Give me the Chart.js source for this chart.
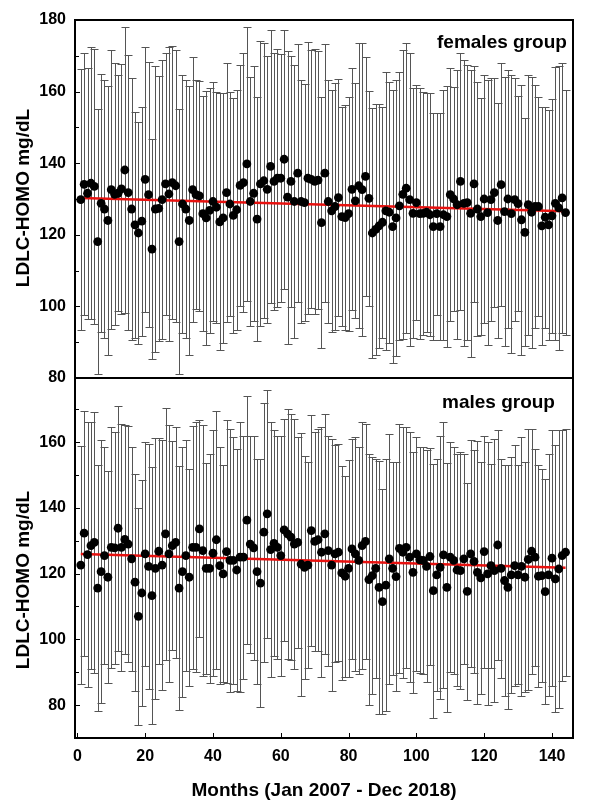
<!DOCTYPE html>
<html><head><meta charset="utf-8">
<script src="https://cdn.jsdelivr.net/npm/chart.js@4/dist/chart.umd.min.js"></script>
<style>
html,body{margin:0;padding:0;background:#fff;}
body{width:591px;height:809px;position:relative;overflow:hidden;font-family:"Liberation Sans",Arial,sans-serif;}
canvas{position:absolute;left:0;}
#c1{top:0px}
#c2{top:358px}
.lbl{position:absolute;font-weight:bold;font-size:19px;color:#000;white-space:nowrap;line-height:1;transform:translateY(-50%);}
.ytitle{position:absolute;font-weight:bold;font-size:19px;color:#000;white-space:nowrap;line-height:1;transform:translate(-50%,-50%) rotate(-90deg);}
</style></head>
<body>
<canvas id="c2" width="591" height="451"></canvas>
<canvas id="c1" width="591" height="398"></canvas>
<div class="ytitle" style="left:22px;top:198px;">LDLC-HOMO mg/dL</div>
<div class="ytitle" style="left:22px;top:580px;">LDLC-HOMO mg/dL</div>
<div class="lbl" style="left:437px;top:41px;">females group</div>
<div class="lbl" style="left:442px;top:401px;">males group</div>
<script>
const months = [1,2,3,4,5,6,7,8,9,10,11,12,13,14,15,16,17,18,19,20,21,22,23,24,25,26,27,28,29,30,31,32,33,34,35,36,
37,38,39,40,41,42,43,44,45,46,47,48,49,50,51,52,53,54,55,56,57,58,59,60,61,62,63,64,65,66,67,68,69,70,71,72,
73,74,75,76,77,78,79,80,81,82,83,84,85,86,87,88,89,90,91,92,93,94,95,96,97,98,99,100,101,102,103,104,105,106,107,108,
109,110,111,112,113,114,115,116,117,118,119,120,121,122,123,124,125,126,127,128,129,130,131,132,133,134,135,136,137,138,139,140,141,142,143,144];

const femalesMean = [129.8,134.1,131.6,134.4,133.5,118.1,128.8,127.2,124.0,132.6,131.3,131.6,132.8,138.1,131.8,127.2,122.8,120.5,123.8,135.5,131.2,116.0,127.2,127.4,129.8,134.2,131.4,134.6,133.7,118.1,128.6,127.2,124.0,132.6,131.2,
130.9,125.9,124.7,126.8,129.3,127.7,123.6,124.7,131.8,128.6,125.4,127.0,133.8,134.6,139.8,129.3,131.6,124.4,134.2,135.1,132.7,139.1,134.9,135.8,135.8,141.1,130.5,134.9,129.3,137.2,129.3,129.0,135.8,135.5,134.9,135.3,123.4,
137.2,129.3,126.7,127.9,130.4,125.1,124.8,125.9,132.7,129.5,133.7,132.6,136.3,130.2,120.5,121.5,122.5,123.5,126.7,126.3,122.3,124.7,128.1,131.3,133.0,129.8,126.0,129.0,125.9,126.0,126.3,125.6,122.3,125.9,122.3,125.6,125.1,131.2,
130.0,128.4,134.9,128.8,129.0,126.0,134.2,127.2,125.1,130.0,126.2,129.8,131.8,124.0,134.0,126.5,130.0,125.9,129.8,128.7,124.2,120.7,128.4,126.3,127.9,127.9,122.5,124.9,122.8,125.3,128.8,127.5,130.3,126.2];

const femalesSD = [36.5,36.6,35,38,38.5,37,36,36,37.6,39,36.6,33,35,40,38.4,36.5,31.6,31.1,32,37,37,30.7,40,37,39,36.5,41,38,38,37,36,36,37.6,37,32,
32.2,32.9,35.5,34.3,33.5,32.3,35.9,34.8,36.1,31.4,32.7,33.5,33.6,36.3,38.3,34.9,35.6,34.2,39.8,38.4,37.3,38.1,35.8,36,34.7,36.1,40.9,35,38,36,34,33,38,36,37,36,35,
36,34,33.8,34.4,33,30.7,31.5,32.7,33.8,32.8,39.8,40.9,33.5,30,34.8,35,34,32.3,38.9,36.5,38.2,38.6,37.5,40.3,40.5,40.9,34.9,32.9,35,34,33.4,33.9,31.6,28.2,31.6,34.9,36.5,35.3,
31.4,37.6,35.8,40,38.4,40,33,35.6,33,34.7,37.1,33.9,32,32.7,33.9,37.7,36,38.8,33.9,30,37.7,31.9,36.3,37.9,34,30.7,33.3,30.9,32.1,32.6,38.2,39.7,37.6,34.3];

const malesMean = [122.6,132.3,125.8,128.5,129.5,115.6,120.6,125.5,118.9,128.0,127.8,133.8,128.0,130.4,129.0,124.5,117.4,107.0,114.1,126.0,122.2,113.3,121.6,126.8,122.6,132.1,126.0,128.5,129.5,115.6,120.6,125.5,118.9,128.0,128.0,
133.6,127.0,121.6,121.6,126.2,130.3,122.4,119.9,126.7,124.0,124.0,121.1,125.0,125.0,136.3,129.0,127.8,120.6,117.1,132.6,138.2,127.3,129.2,128.0,125.5,133.3,132.1,131.1,129.0,129.5,122.9,121.9,122.6,133.1,129.8,130.3,126.5,
132.1,127.0,122.6,126.0,126.5,120.2,119.2,121.6,127.5,126.0,124.0,128.5,129.8,118.2,119.4,121.6,115.8,111.5,116.5,124.5,121.6,119.1,127.7,126.5,128.0,125.0,120.4,126.0,124.2,124.0,122.2,125.2,114.8,119.6,121.9,125.7,115.8,
125.0,124.0,121.1,120.9,124.5,114.6,126.0,123.7,120.4,118.7,126.7,119.9,122.4,120.9,128.7,121.6,117.9,115.8,119.6,122.4,119.6,122.2,118.9,124.3,126.8,125.0,119.2,119.4,114.5,119.6,124.7,118.4,121.4,125.5,126.5];

const malesSD = [36.2,37.3,40.3,37.6,39.8,37.3,39.9,33,32.2,36.6,35.2,37.2,37.6,34.7,35.9,34,33,32.9,34.4,34,37.3,39.1,39.6,34.4,38,38.4,39.1,31.7,35.1,37,38,35,33,37,38,
33,38.1,32,34.8,37.4,39.3,36.1,33,39.9,40.1,37.5,36.9,41.1,37,37.7,33,34.2,34.3,37.8,39.4,37.8,38.8,34.4,34,36.5,33.8,38.1,37.5,38.1,32,40,34,31.3,35.2,33.2,33.8,38,
36.5,35,38.4,33,33,32.5,30.6,33,33.5,35.5,34.5,37.6,35.8,38.2,36,33.3,38.6,34.3,38.4,38,32.3,34.8,37.9,38.1,36.6,38,36.6,35.5,34.3,34.5,35.3,33,38.6,35.3,40,40.4,37.9,
35,34.5,35.3,36.1,32,33,34.5,33.8,40,35.2,35.3,40,31,40,35,33.3,35,37.1,35.8,36.6,33.3,39.3,35,39.8,37.3,33,33.7,32.5,34.3,36.8,38.9,40.6,42.2,38.1,37.6];

const trendX = [1, 144];
const femalesTrend = [130.3, 126.6];
const malesTrend = [126.0, 121.8];

const topYLabels = [80,100,120,140,160,180];
const topYMarks = [90,100,110,120,130,140,150,160,170];
const botYLabels = [80,100,120,140,160];
const botYMarks = [80,90,100,110,120,130,140,150,160,170];
const xLabels = [0,20,40,60,80,100,120,140];

const FONT = '"Liberation Sans", Arial, sans-serif';

const errPlugin = {
  id: 'errbars',
  beforeDatasetsDraw(chart, args, o) {
    if (!o || !o.mean) return;
    const {ctx, chartArea: a} = chart;
    const xs = chart.scales.x, ys = chart.scales.y;
    ctx.save();
    ctx.beginPath(); ctx.rect(a.left, a.top, a.right - a.left, a.bottom - a.top); ctx.clip();
    ctx.strokeStyle = '#555';
    ctx.lineWidth = 1;
    ctx.beginPath();
    for (let i = 0; i < o.x.length; i++) {
      const px = Math.round(xs.getPixelForValue(o.x[i])) + 0.5;
      const t = Math.round(ys.getPixelForValue(o.mean[i] + o.sd[i])) + 0.5;
      const b = Math.round(ys.getPixelForValue(o.mean[i] - o.sd[i])) + 0.5;
      ctx.moveTo(px, t); ctx.lineTo(px, b);
      ctx.moveTo(px - 4, t); ctx.lineTo(px + 4, t);
      ctx.moveTo(px - 4, b); ctx.lineTo(px + 4, b);
    }
    ctx.stroke();
    ctx.restore();
  },
  afterDraw(chart, args, o) {
    if (!o) return;
    const {ctx, chartArea: a} = chart;
    const xs = chart.scales.x, ys = chart.scales.y;
    ctx.save();
    ctx.strokeStyle = '#000';
    ctx.lineWidth = 1;
    ctx.beginPath();
    (o.yMarks || []).forEach(v => {
      const y = Math.round(ys.getPixelForValue(v)) + 0.5;
      const len = (v % 20 === 0) ? 5 : 4;
      ctx.moveTo(a.left, y); ctx.lineTo(a.left + len, y);
    });
    (o.xMarks || []).forEach(v => {
      const x = Math.round(xs.getPixelForValue(v)) + 0.5;
      ctx.moveTo(x, a.bottom); ctx.lineTo(x, a.bottom - 5);
    });
    ctx.stroke();
    ctx.lineWidth = 2;
    ctx.strokeRect(a.left, a.top, a.right - a.left, a.bottom - a.top);
    ctx.restore();
  }
};

function pts(xv, yv) { return xv.map((x, i) => ({x: x, y: yv[i]})); }

function build(id, mean, sd, trend, yMin, yMax, yLabels, yMarks, isBottom) {
  const scales = {
    x: {
      type: 'linear', min: -0.7, max: 146.2,
      display: isBottom,
      afterBuildTicks(s) { s.ticks = xLabels.map(v => ({value: v})); },
      afterFit(s) { if (isBottom) s.height = 71; },
      grid: {display: false, drawTicks: false},
      border: {display: false},
      ticks: {padding: 9, color: '#000', autoSkip: false, maxRotation: 0,
              font: {family: FONT, size: 16, weight: 'bold'}},
      title: {display: true, text: 'Months (Jan 2007 - Dec 2018)', color: '#000',
              padding: {top: 0, bottom: 7}, font: {family: FONT, size: 19, weight: 'bold'}}
    },
    y: {
      type: 'linear', min: yMin, max: yMax,
      afterBuildTicks(s) { s.ticks = yLabels.map(v => ({value: v})); },
      afterFit(s) { s.width = 75; },
      grid: {display: false, drawTicks: false},
      border: {display: false},
      ticks: {padding: 9, color: '#000', font: {family: FONT, size: 16, weight: 'bold'}}
    }
  };
  return new Chart(document.getElementById(id), {
    type: 'scatter',
    data: {
      datasets: [
        {data: pts(months, mean), backgroundColor: '#000', borderColor: '#000', borderWidth: 0,
         pointRadius: 4.4, pointHoverRadius: 4.4, order: 0},
        {data: pts(trendX, trend), showLine: true, borderColor: '#e8110f', borderWidth: 2.5,
         pointRadius: 0, fill: false, order: 1}
      ]
    },
    options: {
      responsive: false, animation: false, devicePixelRatio: 1,
      layout: {padding: isBottom ? {top: 20, right: 18, bottom: 0, left: 0} : {top: 20, right: 18, bottom: 20, left: 0}},
      plugins: {
        legend: {display: false}, tooltip: {enabled: false},
        errbars: {x: months, mean: mean, sd: sd, yMarks: yMarks, xMarks: isBottom ? xLabels : []}
      },
      scales: scales
    },
    plugins: [errPlugin]
  });
}

build('c1', femalesMean, femalesSD, femalesTrend, 80, 180, topYLabels, topYMarks, false);
build('c2', malesMean, malesSD, malesTrend, 70, 179.5, botYLabels, botYMarks, true);
</script>
</body></html>
